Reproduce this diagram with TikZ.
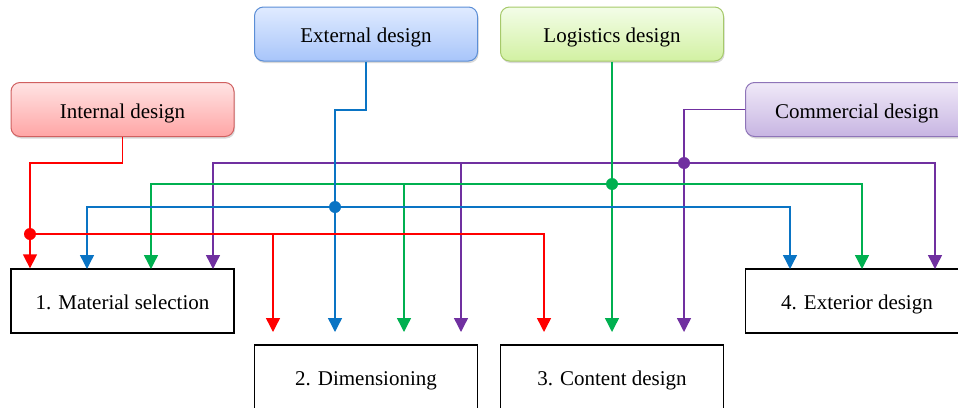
\documentclass[tikz,border=0pt]{standalone}
\usepackage{fontspec}
\setmainfont{Liberation Serif}
\usetikzlibrary{arrows.meta,positioning,shadows}

\definecolor{linered}{HTML}{FF0000}
\definecolor{lineblue}{HTML}{0A74C4}
\definecolor{linegreen}{HTML}{00B050}
\definecolor{linepurple}{HTML}{7030A0}

\begin{document}
\begin{tikzpicture}[x=1pt, y=-1pt, >={Triangle[length=14pt,width=14pt]},
  font=\fontsize{21}{24}\selectfont,
  every node/.style={text height=17pt, text depth=0pt},
  topbox/.style={draw, rounded corners=9pt, line width=1pt,
    minimum width=223pt, minimum height=54pt,
    drop shadow={shadow xshift=1pt, shadow yshift=-2pt, opacity=0.25, fill=black!60}},
  stepbox/.style={draw, line width=1.3pt, minimum width=223pt, minimum height=64pt, fill=white},
  bus/.style={line width=1.4pt},
  dot/.style={circle, fill, inner sep=0pt, minimum size=12pt, text height=0pt}]

  \useasboundingbox (0,0) rectangle (958,407);
  \clip (0,0) rectangle (958,407);

  % Define coordinates for nodes
  \node[topbox, draw={rgb,255:red,208;green,96;blue,96}, top color={rgb,255:red,255;green,228;blue,228}, bottom color={rgb,255:red,255;green,165;blue,165}] (int) at (122.5,109.5) {Internal design};
  \node[topbox, draw={rgb,255:red,91;green,142;blue,214}, top color={rgb,255:red,224;green,235;blue,255}, bottom color={rgb,255:red,168;green,197;blue,250}] (ext) at (366,34) {External design};
  \node[topbox, draw={rgb,255:red,166;green,201;blue,106}, top color={rgb,255:red,243;green,253;blue,232}, bottom color={rgb,255:red,210;green,241;blue,162}] (log) at (612,34) {Logistics design};
  \node[topbox, draw={rgb,255:red,142;green,116;blue,184}, top color={rgb,255:red,240;green,234;blue,248}, bottom color={rgb,255:red,199;green,180;blue,226}] (com) at (857,109.5) {Commercial design};

  \node[stepbox] (mat) at (122.5,301) {1. Material selection};
  \node[stepbox] (dim) at (366,377) {2. Dimensioning};
  \node[stepbox] (con) at (612,377) {3. Content design};
  \node[stepbox] (exd) at (857,301) {4. Exterior design};

  % junctions and bends
  \coordinate (rj) at (30,234);
  \coordinate (bj) at (335,207);
  \coordinate (gj) at (612,184);
  \coordinate (pj) at (684,163);
  \coordinate (rk) at (30,163);
  \coordinate (bk) at (335,110);

  % arrow ends
  \coordinate (b1) at (87,269);
  \coordinate (g1) at (151,269);
  \coordinate (p1) at (213,269);
  \coordinate (r2) at (273,332);
  \coordinate (b2) at (335,332);
  \coordinate (g2) at (404,332);
  \coordinate (p2) at (461,332);
  \coordinate (r3) at (544,332);
  \coordinate (g3) at (612,332);
  \coordinate (p3) at (684,332);
  \coordinate (b4) at (790,269);
  \coordinate (g4) at (862,269);
  \coordinate (p4) at (935,269);

  % Draw arrows between nodes
  \draw[bus, linepurple, ->] (com.west) -| (p3);
  \draw[bus, linepurple, ->] (pj) -| (p1);
  \draw[bus, linepurple, ->] (pj) -| (p4);
  \draw[bus, linepurple, ->] (pj -| p2) -- (p2);

  \draw[bus, linegreen, ->] (log.south) -- (g3);
  \draw[bus, linegreen, ->] (gj) -| (g1);
  \draw[bus, linegreen, ->] (gj) -| (g4);
  \draw[bus, linegreen, ->] (gj -| g2) -- (g2);

  \draw[bus, lineblue] (ext.south) |- (bk) -- (bj);
  \draw[bus, lineblue, ->] (bj) -- (b2);
  \draw[bus, lineblue, ->] (bj) -| (b1);
  \draw[bus, lineblue, ->] (bj) -| (b4);

  \draw[bus, linered] (int.south) |- (rk) -- (rj);
  \draw[bus, linered, ->] (rj) -- (rj |- mat.north);
  \draw[bus, linered, ->] (rj) -| (r3);
  \draw[bus, linered, ->] (rj -| r2) -- (r2);

  \node[dot, linered] (rdot) at (rj) {};
  \node[dot, lineblue] (bdot) at (bj) {};
  \node[dot, linegreen] (gdot) at (gj) {};
  \node[dot, linepurple] (pdot) at (pj) {};
\end{tikzpicture}
\end{document}
